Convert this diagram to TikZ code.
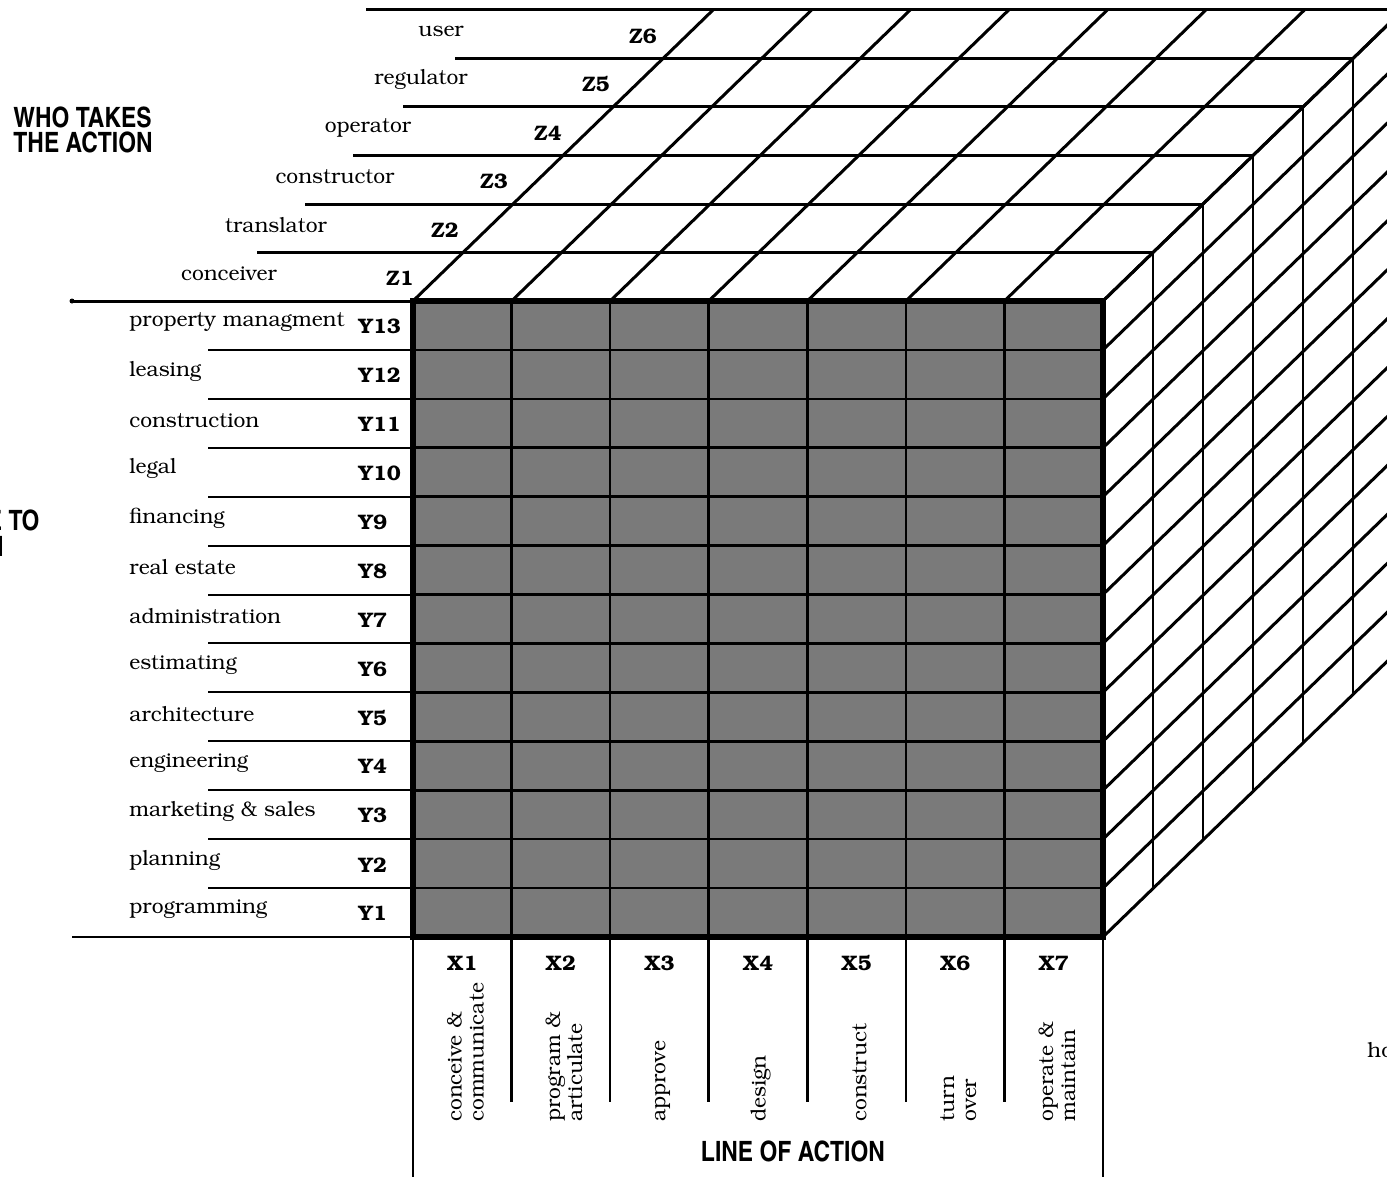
\documentclass[tikz,border=0pt]{standalone}
\usepackage[T1]{fontenc}
\usepackage{bookman}
\usetikzlibrary{calc}

\newcommand\labelsize{\fontsize{10.5}{11}\selectfont}
\newcommand\headfont{\fontfamily{phv}\fontseries{bc}\fontsize{14}{12.5}\selectfont}
\newcommand\colw{98.57}
\newcommand\rowh{48.92}
\newcommand\layx{50}
\newcommand\layy{48.5}

\begin{document}
\begin{tikzpicture}[x=0.5pt, y=-0.5pt,
    cubeline/.style={line width=1.5pt},
    sideline/.style={line width=1pt},
    rule/.style={line width=1pt},
    rowname/.style={anchor=west, inner sep=0pt, font=\labelsize},
    code/.style={inner sep=0pt, font=\labelsize\bfseries},
    stepname/.style={rotate=90, anchor=west, align=left, inner sep=0pt, font=\labelsize},
    heading/.style={inner sep=0pt, align=left, font=\headfont}
]
    \useasboundingbox (0,0) rectangle (1387,1177);
    \clip (0,0) rectangle (1387,1177);

    % front face
    \fill[black!52] (413,301) rectangle (1103,937);
    \foreach \i in {1,...,6}
        \draw[line width=1.3pt] ({413+\i*\colw},301) -- ++(0,636);
    \foreach \j in {1,...,12}
        \draw[line width=1.3pt] (413,{301+\j*\rowh}) -- (1103,{301+\j*\rowh});

    % top face with the label rules on the left
    \foreach \k/\xs in {0/72, 1/257, 2/305, 3/353, 4/403, 5/455, 6/366}
        \draw[cubeline] (\xs,{301-\k*\layy}) -- ({1103+\k*\layx},{301-\k*\layy});
    \fill (72,301) circle (2.5);
    \foreach \i in {0,...,7}
        \draw[cubeline] ({413+\i*\colw},301) -- ++({6*\layx},{-6*\layy});

    % side face
    \foreach \k in {1,...,6}
        \draw[sideline] ({1103+\k*\layx},{301-\k*\layy}) -- ++(0,636);
    \foreach \j in {0,...,13}
        \draw[cubeline] (1103,{301+\j*\rowh}) -- ++({6*\layx},{-6*\layy});

    \draw[line width=2.6pt] (413,301) rectangle (1103,937);

    % row rules and column rules
    \foreach \j in {1,...,12}
        \draw[rule] (208,{301+\j*\rowh}) -- (413,{301+\j*\rowh});
    \draw[rule] (72,937) -- (413,937);
    \foreach \i in {1,...,6}
        \draw[line width=1.3pt] ({413+\i*\colw},937) -- ++(0,165);
    \draw[rule] (413,937) -- (413,1177);
    \draw[rule] (1103,937) -- (1103,1177);

    % who takes the action
    \foreach \name/\nx/\zx [count=\k] in {conceiver/229/400, translator/276/445,
            constructor/335/494, operator/368/548, regulator/421/596, user/441/643} {
        \node[inner sep=0pt, font=\labelsize] (who\k) at (\nx,{301-(\k-0.5)*\layy-3}) {\name};
        \node[code] (z\k) at (\zx,{301-(\k-0.5)*\layy+2}) {Z\k};
    }

    % what the action is about
    \foreach \name/\yn [count=\r] in {property managment/13, leasing/12, construction/11,
            legal/10, financing/9, real estate/8, administration/7, estimating/6,
            architecture/5, engineering/4, marketing \& sales/3, planning/2, programming/1} {
        \node[rowname] (area\yn) at (129,{301+(\r-0.5)*\rowh-3}) {\name};
        \node[code, anchor=west] (y\yn) at (358,{301+(\r-0.5)*\rowh+1}) {Y\yn};
    }

    % line of action
    \foreach \name [count=\i] in {{conceive \&\\communicate}, {program \&\\articulate},
            approve, design, construct, {turn\\over}, {operate \&\\maintain}} {
        \node[code] (x\i) at ({413+(\i-0.5)*\colw},963) {X\i};
        \node[stepname] (step\i) at ({413+(\i-0.5)*\colw+3},1122) {\name};
    }

    \node[heading, anchor=north west] (who) at (13,107) {WHO TAKES\\THE ACTION};
    \node[heading, anchor=east] (whereto) at (40,520) {WHERE TO};
    \node[heading, anchor=east] (whereact) at (4,546) {ACTION};
    \node[heading] (line) at (793,1151) {LINE OF ACTION};
    \node[inner sep=0pt, font=\labelsize, anchor=west] (how) at (1367,1050) {how};
\end{tikzpicture}
\end{document}
